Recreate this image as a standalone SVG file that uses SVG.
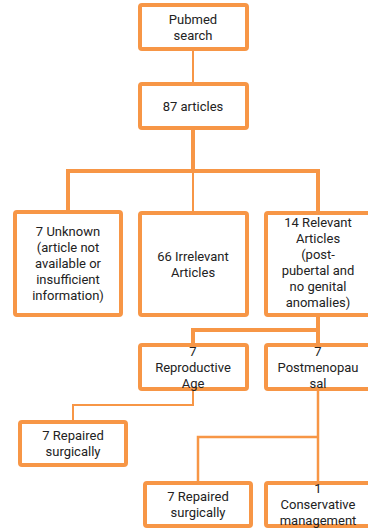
<svg xmlns="http://www.w3.org/2000/svg" width="368" height="530" viewBox="0 0 368 530">
<style>
.box{fill:#fff;stroke:#F79646;stroke-width:4;}
.ln{fill:none;stroke:#F79646;stroke-linejoin:miter;}
.thick{stroke-width:4;}
.thin{stroke-width:2;}
.mid{stroke-width:2.5;}
text{font-family:Roboto,"Liberation Sans",sans-serif;font-size:13px;fill:#222;text-anchor:middle;}
</style>
<rect width="368" height="530" fill="#fff"/>
<g id="connectors">
<path class="ln thin" d="M193 50 V83"/>
<path class="ln thick" d="M193 129 V171"/>
<path class="ln thick" d="M68 212 V171 H318 V212"/>
<path class="ln thin" d="M193 171 V212"/>
<path class="ln thick" d="M318 314 V345"/>
<path class="ln thick" d="M193 345 V330 H318"/>
<path class="ln thin" d="M193 390 V405 H73 V421"/>
<path class="ln mid" d="M318 390 V482"/>
<path class="ln mid" d="M198 482 V437 H318"/>
</g>
<g id="pubmed"><rect class="box" x="140" y="5" width="107" height="44" rx="2"/><text x="193" y="24">Pubmed</text><text x="193" y="40">search</text></g>
<g id="articles87"><rect class="box" x="140" y="84" width="107" height="44" rx="2"/><text x="193" y="111">87 articles</text></g>
<g id="unknown"><rect class="box" x="15" y="212" width="106" height="103" rx="2"/><text x="68" y="236">7 Unknown</text><text x="68" y="252">(article not</text><text x="68" y="268">available or</text><text x="68" y="284">insufficient</text><text x="68" y="300">information)</text></g>
<g id="irrelevant"><rect class="box" x="140" y="213" width="107" height="102" rx="2"/><text x="193" y="261">66 Irrelevant</text><text x="193" y="277">Articles</text></g>
<g id="relevant"><rect class="box" x="266" y="213" width="106" height="102" rx="2"/><text x="318" y="227">14 Relevant</text><text x="318" y="243">Articles</text><text x="318" y="259">(post-</text><text x="318" y="275">pubertal and</text><text x="318" y="291">no genital</text><text x="318" y="307">anomalies)</text></g>
<g id="reproductive"><rect class="box" x="140" y="345" width="107" height="44" rx="2"/><text x="193" y="356">7</text><text x="193" y="372">Reproductive</text><text x="193" y="388">Age</text></g>
<g id="postmenopausal"><rect class="box" x="266" y="345" width="106" height="44" rx="2"/><text x="318" y="356">7</text><text x="318" y="372">Postmenopau</text><text x="318" y="388">sal</text></g>
<g id="repaired1"><rect class="box" x="20" y="422" width="106" height="43" rx="2"/><text x="73" y="440">7 Repaired</text><text x="73" y="456">surgically</text></g>
<g id="repaired2"><rect class="box" x="145" y="483" width="106" height="43" rx="2"/><text x="198" y="501">7 Repaired</text><text x="198" y="517">surgically</text></g>
<g id="conservative"><rect class="box" x="266" y="483" width="106" height="43" rx="2"/><text x="318" y="493">1</text><text x="318" y="509">Conservative</text><text x="318" y="525">management</text></g>
</svg>
